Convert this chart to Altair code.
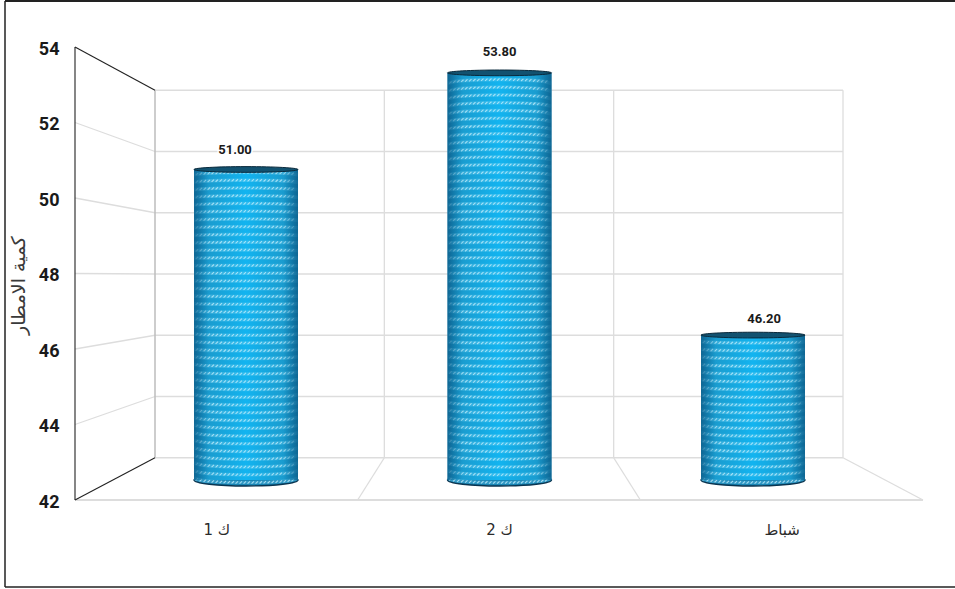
import altair as alt
import numpy as np
import pandas as pd

# Monthly rainfall totals
months = ["ك 1", "ك 2", "شباط"]
rainfall = [51.0, 53.8, 46.2]
value_labels = ["51.00", "53.80", "46.20"]
y_ticks = [42, 44, 46, 48, 50, 52, 54]

FONT_NUM = "Roboto"
FONT_AR = "DejaVu Sans"
W, H = 848, 453

# Perspective box: depth 0 is the front plane, depth 1 the back wall.
SHRINK = 688 / 848
VANISH_Y = 47.93
VANISH_X = 1.5


def project(cat, val, depth):
    k = 1 + (SHRINK - 1) * depth
    return VANISH_X + (cat - VANISH_X) * k, VANISH_Y + (val - VANISH_Y) * k


def segment(a, b):
    (x, y), (x2, y2) = project(*a), project(*b)
    return {"x": x, "y": y, "x2": x2, "y2": y2}


FRONT_X = alt.Scale(domain=[0, 3], nice=False, zero=False)
FRONT_Y = alt.Scale(domain=[42, 54], nice=False, zero=False)


def frame_layer(rows, color, width):
    return alt.Chart(pd.DataFrame(rows)).mark_rule(color=color, strokeWidth=width).encode(
        x=alt.X("x:Q", scale=FRONT_X, axis=None),
        x2="x2:Q",
        y=alt.Y("y:Q", scale=FRONT_Y, axis=None),
        y2="y2:Q",
    )


# Light gridlines on the back wall, the left wall and the floor
light = [segment((0, v, 1), (3, v, 1)) for v in y_ticks]
light += [segment((0, v, 0), (0, v, 1)) for v in y_ticks[1:-1]]
light += [segment((c, 42, 1), (c, 54, 1)) for c in (1, 2, 3)]
light += [segment((c, 42, 0), (c, 42, 1)) for c in (1, 2, 3)]
floor_front = [segment((0, 42, 0), (3, 42, 0))]
back_edge = [segment((0, 42, 1), (0, 54, 1))]
dark = [
    segment((0, 42, 0), (0, 54, 0)),
    segment((0, 42, 0), (0, 42, 1)),
    segment((0, 54, 0), (0, 54, 1)),
]

# Real axes sit on the front plane of the box
axes = alt.Chart(pd.DataFrame({"month": months, "rain": rainfall})).mark_point(opacity=0).encode(
    x=alt.X(
        "month:N",
        sort=months,
        scale=alt.Scale(domain=months, paddingInner=0, paddingOuter=0),
        axis=alt.Axis(
            title=None, domain=False, ticks=False, labelAngle=0, labelPadding=22,
            labelFont=FONT_AR, labelFontSize=15, labelColor="#2b2b2b",
        ),
    ),
    y=alt.Y(
        "rain:Q",
        scale=FRONT_Y,
        axis=alt.Axis(
            values=y_ticks, title="كمية الامطار", domain=False, ticks=False, grid=False,
            labelFont=FONT_NUM, labelFontSize=18, labelFontWeight="bold", labelColor="#1a1a1a",
            labelPadding=16, labelOffset=2, titleFont=FONT_AR, titleFontSize=19,
            titleFontWeight="normal", titleColor="#3a3a3a", titleX=-47, titleY=238,
        ),
    ),
)

# Cylinders stand on a plane halfway into the box, with a scale of their own
BAR_X = alt.Scale(domain=[-0.6746, 2.6706], nice=False, zero=False)
BAR_Y = alt.Scale(domain=[41.42, 54.55], nice=False, zero=False)
HALF = 0.205
PX_PER_UNIT_X = 253.5
PX_PER_UNIT_Y = 34.5
bars = pd.DataFrame({"i": range(3), "rain": rainfall})
bars["lo"] = bars.i - HALF
bars["hi"] = bars.i + HALF
bars["base"] = 42.0

side = alt.Gradient(
    gradient="linear", x1=0, x2=1, y1=0, y2=0,
    stops=[
        alt.GradientStop(color="#0f6d9a", offset=0),
        alt.GradientStop(color="#1a9ccf", offset=0.14),
        alt.GradientStop(color="#12b4f0", offset=0.5),
        alt.GradientStop(color="#1a9ccf", offset=0.86),
        alt.GradientStop(color="#0e6a96", offset=1),
    ],
)

# Shading laid over the texture so the cylinder edges stay dark
edge_shade = alt.Gradient(
    gradient="linear", x1=0, x2=1, y1=0, y2=0,
    stops=[
        alt.GradientStop(color="rgba(14,100,145,0.85)", offset=0),
        alt.GradientStop(color="rgba(20,150,205,0)", offset=0.16),
        alt.GradientStop(color="rgba(20,150,205,0)", offset=0.84),
        alt.GradientStop(color="rgba(14,100,145,0.85)", offset=1),
    ],
)

BAR_SIZE = 10816
bottom_cap = alt.Chart(bars).mark_point(
    shape="M-1,0 A1,0.115 0 1 1 1,0 A1,0.115 0 1 1 -1,0 Z",
    fill="#127fb0", stroke="#0b3550", strokeWidth=1.4, opacity=1, size=BAR_SIZE,
).encode(
    x=alt.X("i:Q", scale=BAR_X, axis=None),
    y=alt.Y("base:Q", scale=BAR_Y, axis=None),
)

body = alt.Chart(bars).mark_rect(fill=side).encode(
    x=alt.X("lo:Q", scale=BAR_X, axis=None),
    x2="hi:Q",
    y=alt.Y("base:Q", scale=BAR_Y, axis=None),
    y2="rain:Q",
)


def row_bulge(level, u):
    """Rows curve with the cylinder: downward below eye level, upward above it."""
    return (level - VANISH_Y) * 0.021 * np.sqrt(np.clip(1 - u * u, 0, 1))


# Woven texture: curved pale bands carrying rows of short slanted hatch strokes
band_rows, hatch_rows = [], []
for i, v in enumerate(rainfall):
    for r, level in enumerate(np.arange(42.05, v - 0.1, 0.22)):
        for u in np.linspace(-1, 1, 13):
            band_rows.append({
                "row": f"{i}-{r}",
                "x": i + u * HALF,
                "y": level + row_bulge(level, u),
            })
        for u in np.arange(-0.97, 0.95, 4 / 52):
            y0 = level + row_bulge(level, u)
            hatch_rows.append({
                "x": i + u * HALF,
                "x2": i + u * HALF + 2.4 / PX_PER_UNIT_X,
                "y": y0 - 1.1 / PX_PER_UNIT_Y,
                "y2": y0 + 1.1 / PX_PER_UNIT_Y,
            })

band = alt.Chart(pd.DataFrame(band_rows)).mark_line(
    color="#7fd6f5", strokeWidth=3.6, opacity=0.3, interpolate="monotone"
).encode(
    x=alt.X("x:Q", scale=BAR_X, axis=None),
    y=alt.Y("y:Q", scale=BAR_Y, axis=None),
    detail="row:N",
)
hatch = alt.Chart(pd.DataFrame(hatch_rows)).mark_rule(
    color="#c4edfb", strokeWidth=1.1, opacity=0.8
).encode(
    x=alt.X("x:Q", scale=BAR_X, axis=None),
    x2="x2:Q",
    y=alt.Y("y:Q", scale=BAR_Y, axis=None),
    y2="y2:Q",
)
shade = alt.Chart(bars).mark_rect(fill=edge_shade).encode(
    x=alt.X("lo:Q", scale=BAR_X, axis=None),
    x2="hi:Q",
    y=alt.Y("base:Q", scale=BAR_Y, axis=None),
    y2="rain:Q",
)

top_cap = alt.Chart(bars).mark_point(
    shape="M-1,0 A1,0.055 0 1 1 1,0 A1,0.055 0 1 1 -1,0 Z",
    fill="#125270", stroke="#0a2a3c", strokeWidth=1, opacity=1, size=BAR_SIZE,
).encode(
    x=alt.X("i:Q", scale=BAR_X, axis=None),
    y=alt.Y("rain:Q", scale=BAR_Y, axis=None),
)

# Value labels float on a plane slightly nearer the viewer
LABEL_X = alt.Scale(domain=[-0.605, 2.601], nice=False, zero=False)
LABEL_Y = alt.Scale(domain=[41.05, 53.94], nice=False, zero=False)
label_df = pd.DataFrame({"i": range(3), "rain": rainfall, "text": value_labels})
label_enc = dict(
    x=alt.X("i:Q", scale=LABEL_X, axis=None),
    y=alt.Y("rain:Q", scale=LABEL_Y, axis=None),
    text="text:N",
)
label_halo = alt.Chart(label_df).mark_text(
    font=FONT_NUM, fontSize=13, fontWeight="bold", color="white",
    stroke="white", strokeWidth=3, baseline="middle",
).encode(**label_enc)
label = alt.Chart(label_df).mark_text(
    font=FONT_NUM, fontSize=13, fontWeight="bold", color="#1a1a1a", baseline="middle",
).encode(**label_enc)

# Picture border: top, left and bottom edges, open on the right
one = pd.DataFrame({"n": [0]})
border_top = alt.Chart(one).mark_rule(color="#222222", strokeWidth=2).encode(
    x=alt.value(-70), x2=alt.value(880), y=alt.value(-46)
)
border_bottom = alt.Chart(one).mark_rule(color="#222222", strokeWidth=1.5).encode(
    x=alt.value(-70), x2=alt.value(880), y=alt.value(540)
)
border_left = alt.Chart(one).mark_rule(color="#222222", strokeWidth=1.5).encode(
    x=alt.value(-70), y=alt.value(-46), y2=alt.value(540)
)

chart = (
    alt.layer(
        border_top,
        border_bottom,
        border_left,
        frame_layer(light, "#dddddd", 1.3),
        frame_layer(floor_front, "#dddddd", 2),
        frame_layer(back_edge, "#bdbdbd", 1.5),
        frame_layer(dark, "#222222", 1.1),
        axes,
        bottom_cap,
        body,
        band,
        hatch,
        shade,
        top_cap,
        label_halo,
        label,
    )
    .resolve_scale(x="independent", y="independent")
    .properties(
        width=W,
        height=H,
        padding={"left": 75, "top": 47, "right": 32, "bottom": 89},
        autosize=alt.AutoSizeParams(type="none"),
        background="white",
    )
    .configure_view(stroke=None)
)

alt.data_transformers.disable_max_rows()
chart.save("out.html", embed_options={"renderer": "svg", "actions": False})
